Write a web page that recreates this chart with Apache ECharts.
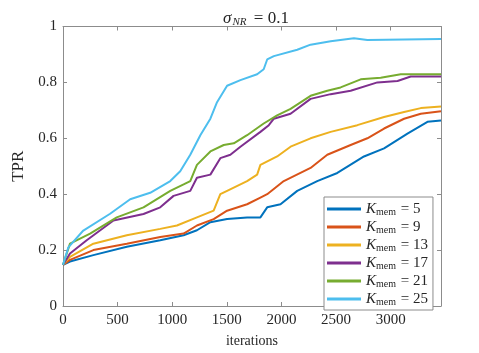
<!DOCTYPE html>
<html>
<head>
<meta charset="utf-8">
<script src="https://cdn.jsdelivr.net/npm/echarts@6/dist/echarts.min.js"></script>
<style>
  html, body { margin: 0; padding: 0; background: #fff; }
  #chart { width: 479px; height: 353px; }
</style>
</head>
<body>
<div id="chart"></div>
<script>
// data: [iteration, TPR]
const memSizes = [5, 9, 13, 17, 21, 25]
const colors = ['#0072BD', '#D95319', '#EDB120', '#7E2F8E', '#77AC30', '#4DBEEE']

const tpr5 = [[0, 0.147], [64, 0.159], [278, 0.182], [584, 0.212], [890, 0.235], [1104, 0.253], [1226, 0.271], [1349, 0.3], [1502, 0.311], [1685, 0.317], [1807, 0.317], [1869, 0.353], [1991, 0.364], [2144, 0.412], [2327, 0.447], [2511, 0.476], [2755, 0.535], [2939, 0.564], [3153, 0.617], [3336, 0.659], [3460, 0.664]]
const tpr9 = [[0, 0.147], [64, 0.165], [278, 0.2], [584, 0.223], [890, 0.247], [1104, 0.259], [1226, 0.288], [1379, 0.311], [1502, 0.341], [1685, 0.364], [1807, 0.388], [1869, 0.4], [2021, 0.447], [2266, 0.494], [2419, 0.541], [2633, 0.576], [2786, 0.6], [2939, 0.635], [3122, 0.67], [3275, 0.688], [3460, 0.697]]
const tpr13 = [[0, 0.147], [64, 0.176], [278, 0.223], [584, 0.253], [890, 0.276], [1043, 0.288], [1226, 0.317], [1379, 0.341], [1440, 0.4], [1502, 0.412], [1685, 0.447], [1777, 0.47], [1807, 0.505], [1960, 0.535], [2083, 0.57], [2266, 0.6], [2450, 0.623], [2694, 0.647], [2939, 0.676], [3122, 0.694], [3275, 0.708], [3460, 0.714]]
const tpr17 = [[0, 0.147], [64, 0.188], [217, 0.235], [462, 0.306], [737, 0.329], [890, 0.353], [1012, 0.394], [1165, 0.412], [1226, 0.459], [1349, 0.47], [1440, 0.529], [1532, 0.541], [1624, 0.57], [1807, 0.623], [1884, 0.647], [1930, 0.67], [2083, 0.688], [2266, 0.741], [2450, 0.758], [2633, 0.77], [2878, 0.8], [3062, 0.805], [3183, 0.821], [3460, 0.821]]
const tpr21 = [[0, 0.147], [64, 0.223], [248, 0.259], [492, 0.317], [737, 0.353], [982, 0.412], [1104, 0.435], [1165, 0.447], [1226, 0.505], [1349, 0.553], [1471, 0.576], [1563, 0.582], [1685, 0.611], [1837, 0.653], [1960, 0.682], [2083, 0.705], [2266, 0.752], [2419, 0.77], [2541, 0.782], [2725, 0.811], [2908, 0.817], [3092, 0.829], [3460, 0.829]]
const tpr25 = [[0, 0.147], [49, 0.21], [186, 0.27], [431, 0.33], [615, 0.382], [798, 0.405], [982, 0.447], [1073, 0.482], [1165, 0.541], [1257, 0.611], [1349, 0.67], [1410, 0.729], [1502, 0.788], [1624, 0.808], [1777, 0.829], [1837, 0.847], [1869, 0.882], [1930, 0.894], [2144, 0.917], [2266, 0.935], [2450, 0.947], [2663, 0.958], [2786, 0.952], [3460, 0.955]]
const allTpr = [tpr5, tpr9, tpr13, tpr17, tpr21, tpr25]

const serif = 'Liberation Serif'
const axisGray = '#8c8c8c'
const textColor = '#262626'

let myChart = echarts.init(document.getElementById('chart'))

const series = memSizes.map((k, i) => ({
  name: 'K' + k,
  type: 'line',
  symbol: 'none',
  smooth: false,
  lineStyle: { width: 2, color: colors[i] },
  itemStyle: { color: colors[i] },
  data: allTpr[i]
}))

const xBase = {
  type: 'value',
  min: 0,
  max: 3460,
  interval: 500,
  splitLine: { show: false },
  axisLine: { show: true, onZero: false, lineStyle: { color: axisGray, width: 1 } },
  axisTick: { show: true, inside: true, length: 4, lineStyle: { color: axisGray } }
}
const yBase = {
  type: 'value',
  min: 0,
  max: 1,
  interval: 0.2,
  splitLine: { show: false },
  axisLine: { show: true, onZero: false, lineStyle: { color: axisGray, width: 1 } },
  axisTick: { show: true, inside: true, length: 4, lineStyle: { color: axisGray } }
}

const option = {
  backgroundColor: '#fff',
  animation: false,
  title: {
    text: '{i|σ}{s|NR}{n| = 0.1}',
    left: 251,
    textAlign: 'center',
    top: 4,
    textStyle: {
      fontWeight: 'normal',
      rich: {
        i: { fontFamily: serif, fontStyle: 'italic', fontWeight: 'normal', fontSize: 17, color: textColor },
        s: { fontFamily: serif, fontStyle: 'italic', fontWeight: 'normal', fontSize: 11, color: textColor, padding: [8, 3, 0, 1] },
        n: { fontFamily: serif, fontWeight: 'normal', fontSize: 17, color: textColor }
      }
    }
  },
  grid: { left: 63, right: 38, top: 26.5, bottom: 43 },
  legend: {
    orient: 'vertical',
    left: 324,
    top: 197,
    padding: [4, 5, 3, 3],
    itemGap: 2,
    itemWidth: 34,
    itemHeight: 3,
    icon: 'rect',
    backgroundColor: '#fff',
    borderColor: axisGray,
    borderWidth: 1,
    borderRadius: 0,
    data: memSizes.map(k => 'K' + k),
    formatter: function (name) {
      return '{k|K}{s|mem}{n| = ' + name.slice(1) + '}'
    },
    textStyle: {
      rich: {
        k: { fontFamily: serif, fontStyle: 'italic', fontSize: 15, lineHeight: 15, color: textColor },
        s: { fontFamily: serif, fontSize: 10, lineHeight: 15, color: textColor, padding: [6, 1, 0, 0] },
        n: { fontFamily: serif, fontSize: 15, lineHeight: 15, color: textColor }
      }
    }
  },
  xAxis: [
    Object.assign({}, xBase, {
      position: 'bottom',
      name: 'iterations',
      nameLocation: 'middle',
      nameGap: 28,
      nameTextStyle: { fontFamily: serif, fontSize: 14, color: textColor },
      axisLabel: {
        show: true, margin: 7, showMaxLabel: false, fontFamily: serif, fontSize: 15, color: textColor,
        formatter: v => String(v)
      }
    }),
    Object.assign({}, xBase, { position: 'top', axisLabel: { show: false } })
  ],
  yAxis: [
    Object.assign({}, yBase, {
      position: 'left',
      name: 'TPR',
      nameLocation: 'middle',
      nameGap: 35,
      nameTextStyle: { fontFamily: serif, fontSize: 17, color: textColor },
      axisLabel: { show: true, margin: 6, fontFamily: serif, fontSize: 15, color: textColor }
    }),
    Object.assign({}, yBase, { position: 'right', axisLabel: { show: false } })
  ],
  series: series
}
myChart.setOption(option)
</script>
</body>
</html>
